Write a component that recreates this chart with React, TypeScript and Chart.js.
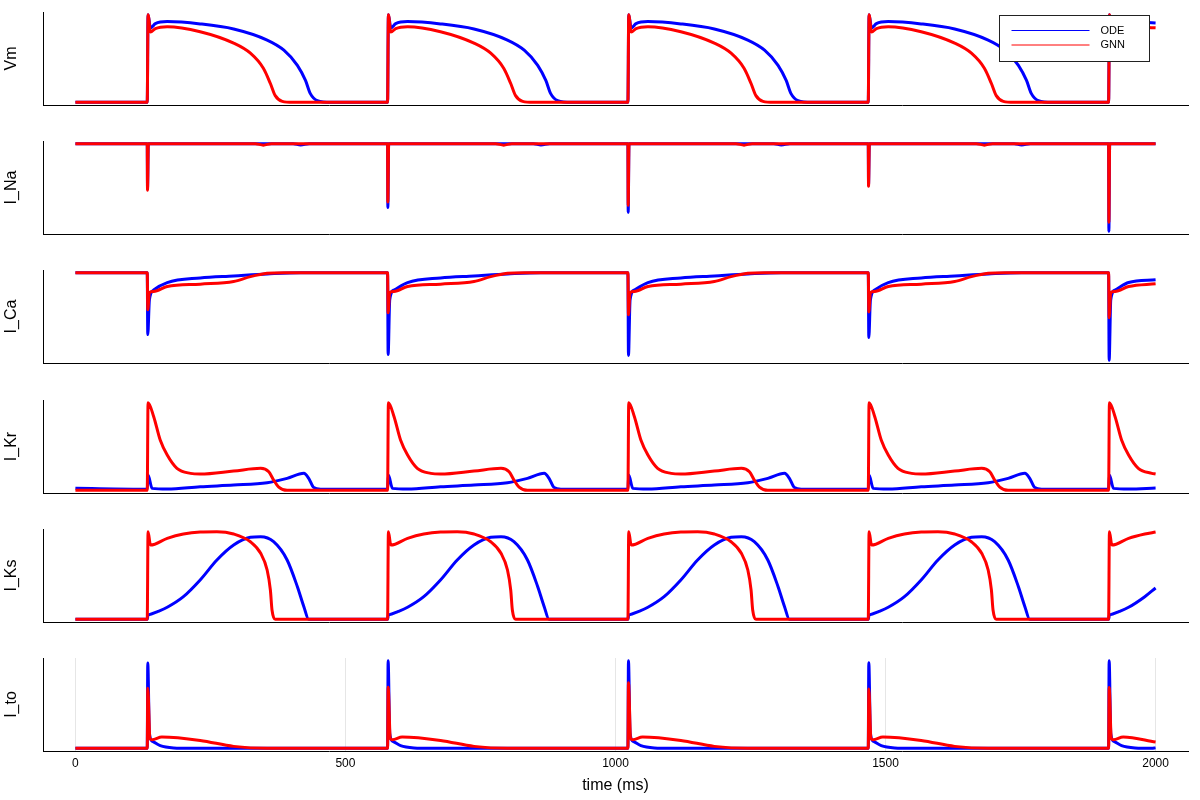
import React, { useEffect, useRef } from 'react';
import { Chart, registerables } from 'chart.js';

Chart.register(...registerables);

// ---------- shared data ----------
const seriesNames = ['ODE', 'GNN'];
const seriesColors = ['#0000ff', '#ff0000'];
const stimTimes = [133, 578, 1023, 1468, 1913];
const tStart = 0;
const tEnd = 2000;
const xMin = -60;
const xMax = 2060;
const xTickValues = [0, 500, 1000, 1500, 2000];
const panelLabels = ['Vm', 'I_Na', 'I_Ca', 'I_Kr', 'I_Ks', 'I_to'];

// ---------- Vm (mV) ----------
const vmRelODE = [0, 1.5, 6, 15, 37, 98, 160, 222, 253, 278, 293, 302, 315, 340];
const vmODE = [-86, 40, 21, 27, 30, 26.7, 19.4, 3.5, -11, -32.8, -54.5, -73.4, -83.5, -86];
const vmRelGNN = [0, 1.5, 6, 15, 37, 98, 160, 191, 215, 228, 237, 250, 270];
const vmGNN = [-86, 40, 15, 20, 22.7, 15.5, -0.9, -15.4, -37, -58.9, -76.3, -84.5, -86];
const vmStart = [-86, -86];
const vmEnd = [28, 21];

// ---------- I_Na ----------
const inaRelODE = [0, 0.5, 2, 270, 284, 300];
const inaODE = [0, -180, 0, 0, -5, 0];
const inaRelGNN = [0, 0.5, 2, 200, 215, 230];
const inaGNN = [0, -186, 0, 0, -6, 0];
const inaPeakODE = [-180, -255, -274, -165, -350];
const inaPeakGNN = [-186, -233, -246, -170, -314];
const inaStart = [0, 0];
const inaEnd = [0, 0];

// ---------- I_Ca ----------
const icaRelODE = [0, 1, 4, 12, 37, 98, 160, 222, 284];
const icaODE = [0, -12.5, -5.5, -3.5, -2.0, -1.06, -0.66, -0.26, 0];
const icaRelGNN = [0, 1, 4, 12, 37, 98, 160, 191, 222, 253];
const icaGNN = [0, -7.5, -4.0, -3.8, -2.8, -2.32, -1.8, -0.8, -0.12, 0];
const icaPeakODE = [-12.5, -16.5, -16.7, -13.1, -17.7];
const icaPeakGNN = [-7.5, -8.1, -8.5, -7.9, -9.1];
const icaStart = [0, 0];
const icaEnd = [-1.46, -2.26];

// ---------- I_Kr ----------
const ikrRelODE = [0, 1.5, 9, 37, 98, 160, 222, 259, 290, 299, 308, 321, 400];
const ikrODE = [0.012, 0.153, 0.02, 0.013, 0.036, 0.053, 0.076, 0.12, 0.17, 0.12, 0.03, 0.012, 0.012];
const ikrRelGNN = [0, 1.5, 12, 24, 37, 55, 80, 98, 160, 210, 225, 234, 243.5, 259];
const ikrGNN = [0, 0.877, 0.736, 0.503, 0.353, 0.22, 0.17, 0.163, 0.193, 0.22, 0.186, 0.103, 0.033, 0];
const ikrStart = [0.02, 0];
const ikrEnd = [0.023, 0.163];

// ---------- I_Ks ----------
const iksRelODE = [0, 1.5, 2, 20, 37, 67, 98, 129, 160, 191, 210, 234, 259, 278, 290, 299];
const iksODE = [0, 0.044, 0.045, 0.08, 0.121, 0.227, 0.394, 0.594, 0.744, 0.821, 0.827, 0.777, 0.594, 0.327, 0.127, 0];
const iksRelGNN = [0, 1.5, 6, 37, 67, 98, 129, 160, 191, 210, 222, 228, 231, 237];
const iksGNN = [0, 0.878, 0.744, 0.811, 0.854, 0.874, 0.877, 0.854, 0.777, 0.661, 0.494, 0.294, 0.094, 0];
const iksStart = [0, 0];
const iksEnd = [0.314, 0.874];

// ---------- I_to ----------
const itoRelODE = [0, 1, 4, 10, 24, 49, 80];
const itoODE = [0, 0.857, 0.15, 0.07, 0.027, 0.004, 0];
const itoRelGNN = [0, 1, 5, 9, 27, 98, 160, 222];
const itoGNN = [0, 0.604, 0.1, 0.087, 0.114, 0.08, 0.02, 0];
const itoPeakODE = [0.857, 0.88, 0.881, 0.86, 0.88];
const itoPeakGNN = [0.604, 0.614, 0.66, 0.597, 0.61];
const itoStart = [0, 0];
const itoEnd = [0.005, 0.064];

type Pt = { x: number; y: number };

function buildSeries(start: number, rel: number[], vals: number[], peaks: number[] | null, end: number): Pt[] {
  const pts: Pt[] = [{ x: tStart, y: start }];
  stimTimes.forEach((s, k) => {
    rel.forEach((r, i) => {
      const t = s + r;
      if (t >= tEnd) return;
      const y = peaks && i === 1 ? peaks[k] : vals[i];
      pts.push({ x: t, y });
    });
  });
  pts.push({ x: tEnd, y: end });
  return pts;
}

const panels = [
  { label: panelLabels[0], ode: buildSeries(vmStart[0], vmRelODE, vmODE, null, vmEnd[0]), gnn: buildSeries(vmStart[1], vmRelGNN, vmGNN, null, vmEnd[1]) },
  { label: panelLabels[1], ode: buildSeries(inaStart[0], inaRelODE, inaODE, inaPeakODE, inaEnd[0]), gnn: buildSeries(inaStart[1], inaRelGNN, inaGNN, inaPeakGNN, inaEnd[1]) },
  { label: panelLabels[2], ode: buildSeries(icaStart[0], icaRelODE, icaODE, icaPeakODE, icaEnd[0]), gnn: buildSeries(icaStart[1], icaRelGNN, icaGNN, icaPeakGNN, icaEnd[1]) },
  { label: panelLabels[3], ode: buildSeries(ikrStart[0], ikrRelODE, ikrODE, null, ikrEnd[0]), gnn: buildSeries(ikrStart[1], ikrRelGNN, ikrGNN, null, ikrEnd[1]) },
  { label: panelLabels[4], ode: buildSeries(iksStart[0], iksRelODE, iksODE, null, iksEnd[0]), gnn: buildSeries(iksStart[1], iksRelGNN, iksGNN, null, iksEnd[1]) },
  { label: panelLabels[5], ode: buildSeries(itoStart[0], itoRelODE, itoODE, itoPeakODE, itoEnd[0]), gnn: buildSeries(itoStart[1], itoRelGNN, itoGNN, itoPeakGNN, itoEnd[1]) },
];

const FONT = '"Liberation Sans", Arial, Helvetica, sans-serif';
const panelTops = [12, 141, 270, 400, 529, 658];
const panelHeight = 93;
const padTop = 8;

const boxLegend = {
  id: 'boxLegend',
  afterDatasetsDraw(chart: any) {
    const { ctx, chartArea } = chart;
    const w = 150;
    const h = 46;
    const x0 = Math.round(chartArea.right - 189) + 0.5;
    const y0 = Math.round(chartArea.top + 3) + 0.5;
    ctx.save();
    ctx.fillStyle = '#ffffff';
    ctx.fillRect(x0, y0, w, h);
    ctx.strokeStyle = '#222222';
    ctx.lineWidth = 1;
    ctx.strokeRect(x0, y0, w, h);
    chart.data.datasets.forEach((ds: any, i: number) => {
      const yy = y0 + 15 + i * 14.5;
      ctx.strokeStyle = ds.borderColor;
      ctx.lineWidth = 1;
      ctx.beginPath();
      ctx.moveTo(x0 + 12, yy);
      ctx.lineTo(x0 + 90, yy);
      ctx.stroke();
      ctx.fillStyle = '#000000';
      ctx.font = `11px ${FONT}`;
      ctx.textBaseline = 'middle';
      ctx.textAlign = 'left';
      ctx.fillText(ds.label, x0 + 101, yy);
    });
    ctx.restore();
  },
};

function Panel({ index }: { index: number }) {
  const ref = useRef<HTMLCanvasElement | null>(null);
  const isBottom = index === panels.length - 1;
  const top = panelTops[index] - padTop;
  const height = isBottom ? 800 - top : panelHeight + 2 * padTop;
  useEffect(() => {
    if (!ref.current) return;
    const p = panels[index];
    const all = [...p.ode, ...p.gnn].map((d) => d.y);
    const dMin = Math.min(...all);
    const dMax = Math.max(...all);
    const pad = (dMax - dMin) * 0.03;
    const chart = new Chart(ref.current, {
      type: 'line',
      data: {
        datasets: [
          { label: seriesNames[0], data: p.ode, borderColor: seriesColors[0], backgroundColor: seriesColors[0], borderWidth: 3, pointRadius: 0, cubicInterpolationMode: 'monotone', order: 2 },
          { label: seriesNames[1], data: p.gnn, borderColor: seriesColors[1], backgroundColor: seriesColors[1], borderWidth: 3, pointRadius: 0, cubicInterpolationMode: 'monotone', order: 1 },
        ],
      },
      options: {
        animation: false,
        responsive: false,
        maintainAspectRatio: false,
        events: [],
        layout: { padding: { left: 0, right: 12, top: padTop, bottom: isBottom ? 0 : padTop } },
        plugins: { legend: { display: false }, tooltip: { enabled: false } },
        scales: {
          x: {
            type: 'linear',
            min: xMin,
            max: xMax,
            afterBuildTicks: (s: any) => {
              s.ticks = xTickValues.map((v) => ({ value: v }));
            },
            afterFit: (s: any) => {
              s.height = isBottom ? 49 : 0;
            },
            grid: { display: isBottom, color: '#e6e6e6', drawTicks: false, lineWidth: 1 },
            border: { display: true, color: '#000000', width: 1 },
            ticks: {
              display: isBottom,
              color: '#000000',
              font: { family: FONT, size: 12 },
              padding: 5,
              maxRotation: 0,
              autoSkip: false,
              callback: (v: any) => String(v),
            },
            title: { display: isBottom, text: 'time (ms)', color: '#000000', font: { family: FONT, size: 16 }, padding: { top: 0, bottom: 5 } },
          },
          y: {
            type: 'linear',
            min: dMin - pad,
            max: dMax + pad,
            afterFit: (s: any) => {
              s.width = 43;
            },
            grid: { display: false },
            border: { display: true, color: '#000000', width: 1 },
            ticks: { display: false },
            title: { display: true, text: p.label, color: '#000000', font: { family: FONT, size: 16 }, padding: { top: 2, bottom: 0 } },
          },
        },
      } as any,
      plugins: index === 0 ? [boxLegend] : [],
    });
    return () => chart.destroy();
  }, [index]);
  return (
    <canvas
      ref={ref}
      width={1200}
      height={height}
      style={{ position: 'absolute', left: 0, top, width: 1200, height }}
    />
  );
}

export default function App() {
  return (
    <div style={{ position: 'absolute', left: 0, top: 0, width: 1200, height: 800, background: '#ffffff' }}>
      {panels.map((_, i) => (
        <Panel key={i} index={i} />
      ))}
    </div>
  );
}
